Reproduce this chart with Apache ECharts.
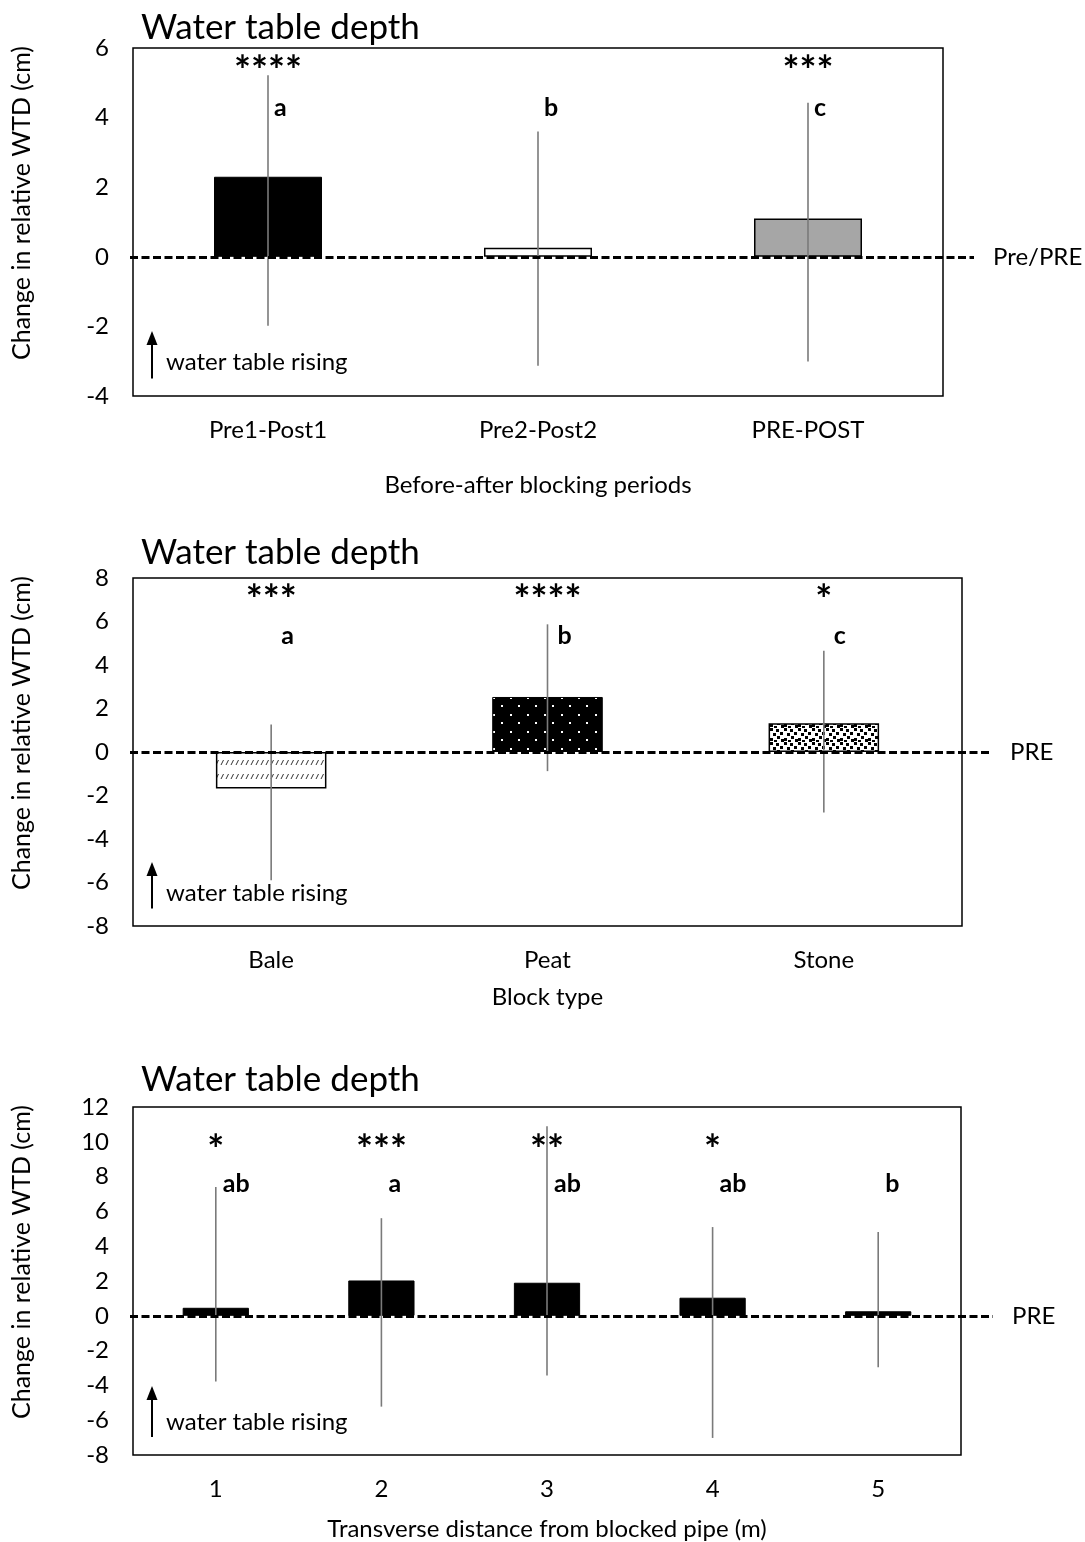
<!DOCTYPE html>
<html>
<head>
<meta charset="utf-8">
<script src="https://cdn.jsdelivr.net/npm/echarts@6/dist/echarts.min.js"></script>
<style>
html, body { margin: 0; padding: 0; background: #fff; }
#chart { width: 1085px; height: 1542px; }
</style>
</head>
<body>
<div id="chart"></div>
<script>
// panel 1 - before/after blocking periods
var periodCats = ['Pre1-Post1', 'Pre2-Post2', 'PRE-POST'];
var periodMean = [2.3, 0.26, 1.1];
var periodLow = [-1.98, -3.13, -3.01];
var periodHigh = [5.22, 3.6, 4.43];
var periodStars = ['****', '', '***'];
var periodLetters = ['a', 'b', 'c'];

// panel 2 - block type
var blockCats = ['Bale', 'Peat', 'Stone'];
var blockMean = [-1.68, 2.53, 1.32];
var blockLow = [-5.9, -0.88, -2.78];
var blockHigh = [1.27, 5.87, 4.65];
var blockStars = ['***', '****', '*'];
var blockLetters = ['a', 'b', 'c'];

// panel 3 - transverse distance
var distCats = ['1', '2', '3', '4', '5'];
var distMean = [0.46, 2.03, 1.9, 1.04, 0.26];
var distLow = [-3.78, -5.22, -3.43, -7.02, -2.96];
var distHigh = [7.4, 5.61, 10.89, 5.1, 4.81];
var distStars = ['*', '***', '**', '*', ''];
var distLetters = ['ab', 'a', 'ab', 'ab', 'b'];

var FONT = 'Lato, "Open Sans", sans-serif';

// fill patterns for the block type bars
function makeTile(w, h, bg, draw){
	var c = document.createElement('canvas');
	c.width = w; c.height = h;
	var ctx = c.getContext('2d');
	ctx.fillStyle = bg;
	ctx.fillRect(0, 0, w, h);
	draw(ctx);
	return c;
}
var baleTile = makeTile(5, 14, '#fff', function(ctx){
	ctx.strokeStyle = '#333';
	ctx.lineWidth = 1;
	ctx.beginPath();
	ctx.moveTo(1, 9); ctx.lineTo(3.5, 4);
	ctx.stroke();
});
var peatTile = makeTile(17, 17, '#000', function(ctx){
	ctx.fillStyle = '#fff';
	ctx.fillRect(0, 0, 2, 2);
	ctx.fillRect(8, 8, 2, 2);
});
var stoneTile = makeTile(14, 14, '#fff', function(ctx){
	ctx.fillStyle = '#000';
	var pts = [[0,0],[6,1],[10,4],[3,5],[7,8],[0,10],[11,11],[4,12]];
	for (var i = 0; i < pts.length; i++) {
		ctx.fillRect(pts[i][0], pts[i][1], 3, 3);
	}
});

var black = {color: '#000', borderColor: '#000', borderWidth: 1};
var panels = [
	{cats: periodCats, mean: periodMean, low: periodLow, high: periodHigh, stars: periodStars, letters: periodLetters,
	 styles: [black, {color: '#fff', borderColor: '#000', borderWidth: 1.5}, {color: '#a6a6a6', borderColor: '#000', borderWidth: 1.5}],
	 top: 48, right: 142, min: -4, max: 6, titleTop: 10, nameGap: 77, axisName: 'Before-after blocking periods',
	 zeroLabel: 'Pre/PRE', lineEnd: 974, starY: 5.6, letterY: 4.27, letterDx: 6, arrow: [-3.5, -2.13], textY: -3.04},
	{cats: blockCats, mean: blockMean, low: blockLow, high: blockHigh, stars: blockStars, letters: blockLetters,
	 styles: [{color: {image: baleTile, repeat: 'repeat'}, borderColor: '#000', borderWidth: 1.5},
	          {color: {image: peatTile, repeat: 'repeat'}, borderColor: '#000', borderWidth: 1},
	          {color: {image: stoneTile, repeat: 'repeat'}, borderColor: '#000', borderWidth: 1.5}],
	 top: 578, right: 123, min: -8, max: 8, titleTop: 535, nameGap: 59, axisName: 'Block type',
	 zeroLabel: 'PRE', lineEnd: 991, starY: 7.38, letterY: 5.35, letterDx: 10, arrow: [-7.2, -5.06], textY: -6.48},
	{cats: distCats, mean: distMean, low: distLow, high: distHigh, stars: distStars, letters: distLetters,
	 styles: [black, black, black, black, black],
	 top: 1107, right: 124, min: -8, max: 12, titleTop: 1062, nameGap: 62, axisName: 'Transverse distance from blocked pipe (m)',
	 zeroLabel: 'PRE', lineEnd: 993, starY: 10.05, letterY: 7.56, letterDx: 7, arrow: [-6.96, -4.04], textY: -6.09}
];

var titles = [], grids = [], xAxes = [], yAxes = [], series = [];

panels.forEach(function(p, k){
	titles.push({text: 'Water table depth', left: 141, top: p.titleTop, padding: 0,
		textStyle: {fontFamily: FONT, fontSize: 35, fontWeight: 'normal', color: '#000'}});
	grids.push({left: 133, right: p.right, top: p.top, height: 348, show: true,
		borderColor: '#000', borderWidth: 1.5, backgroundColor: 'transparent'});
	xAxes.push({type: 'category', gridIndex: k, data: p.cats,
		axisLine: {show: false}, axisTick: {show: false}, splitLine: {show: false},
		axisLabel: {color: '#000', fontFamily: FONT, fontSize: 24, margin: 22},
		name: p.axisName, nameLocation: 'middle', nameGap: p.nameGap,
		nameTextStyle: {color: '#000', fontFamily: FONT, fontSize: 24}});
	yAxes.push({type: 'value', gridIndex: k, min: p.min, max: p.max, interval: 2,
		axisLine: {show: false}, axisTick: {show: false}, splitLine: {show: false},
		axisLabel: {color: '#000', fontFamily: FONT, fontSize: 24, margin: 24}});

	series.push({
		type: 'bar', xAxisIndex: k, yAxisIndex: k, barWidth: '40%', z: 2,
		data: p.mean.map(function(v, i){ return {value: v, itemStyle: p.styles[i]}; }),
		markLine: {
			silent: true, symbol: ['none', 'none'], animation: false,
			lineStyle: {color: '#000', width: 3, type: [8, 3.5]},
			label: {show: true, position: 'end', formatter: p.zeroLabel, distance: 19,
				color: '#000', fontFamily: FONT, fontSize: 24},
			data: [[{xAxis: 0, yAxis: 0, x: 130}, {xAxis: 0, yAxis: 0, x: p.lineEnd}]]
		}
	});
	// error bars
	series.push({
		type: 'custom', xAxisIndex: k, yAxisIndex: k, z: 3, silent: true,
		data: p.low.map(function(l, i){ return [i, l, p.high[i]]; }),
		encode: {x: 0, y: [1, 2]},
		renderItem: function(params, api){
			var a = api.coord([api.value(0), api.value(1)]);
			var b = api.coord([api.value(0), api.value(2)]);
			return {type: 'line', shape: {x1: a[0], y1: a[1], x2: b[0], y2: b[1]},
				style: {stroke: '#7a7a7a', lineWidth: 1.6}};
		}
	});
	// significance stars
	series.push({
		type: 'custom', xAxisIndex: k, yAxisIndex: k, z: 4, silent: true,
		data: p.cats.map(function(c, i){ return [i, p.starY]; }),
		encode: {x: 0, y: 1},
		renderItem: function(params, api){
			var pt = api.coord([api.value(0), api.value(1)]);
			return {type: 'text', x: pt[0], y: pt[1] + 10,
				style: {text: p.stars[params.dataIndex], fill: '#000', font: 'bold 40px ' + FONT,
					align: 'center', verticalAlign: 'middle'}};
		}
	});
	// group letters
	series.push({
		type: 'custom', xAxisIndex: k, yAxisIndex: k, z: 4, silent: true,
		data: p.cats.map(function(c, i){ return [i, p.letterY]; }),
		encode: {x: 0, y: 1},
		renderItem: function(params, api){
			var pt = api.coord([api.value(0), api.value(1)]);
			return {type: 'text', x: pt[0] + p.letterDx, y: pt[1],
				style: {text: p.letters[params.dataIndex], fill: '#000', font: 'bold 25px ' + FONT,
					align: 'left', verticalAlign: 'middle'}};
		}
	});
});

var chart = echarts.init(document.getElementById('chart'));
chart.setOption({
	animation: false,
	backgroundColor: '#fff',
	title: titles,
	grid: grids,
	xAxis: xAxes,
	yAxis: yAxes,
	series: series
});

// arrows, notes and rotated axis names
var graphics = [];
panels.forEach(function(p, k){
	var y0 = chart.convertToPixel({yAxisIndex: k}, p.arrow[0]);
	var y1 = chart.convertToPixel({yAxisIndex: k}, p.arrow[1]);
	var ty = chart.convertToPixel({yAxisIndex: k}, p.textY);
	graphics.push({type: 'line', shape: {x1: 152, y1: y0, x2: 152, y2: y1 + 12},
		style: {stroke: '#000', lineWidth: 2}});
	graphics.push({type: 'polygon', shape: {points: [[146.5, y1 + 14], [157.5, y1 + 14], [152, y1]]},
		style: {fill: '#000'}});
	graphics.push({type: 'text', x: 166, y: ty,
		style: {text: 'water table rising', fill: '#000', font: '24px ' + FONT, verticalAlign: 'middle'}});
	graphics.push({type: 'text', x: 22, y: p.top + 174 - 19, rotation: Math.PI / 2,
		style: {text: 'Change in relative WTD (cm)', fill: '#000', font: '25px ' + FONT,
			align: 'center', verticalAlign: 'middle'}});
});
chart.setOption({graphic: graphics});
</script>
</body>
</html>
